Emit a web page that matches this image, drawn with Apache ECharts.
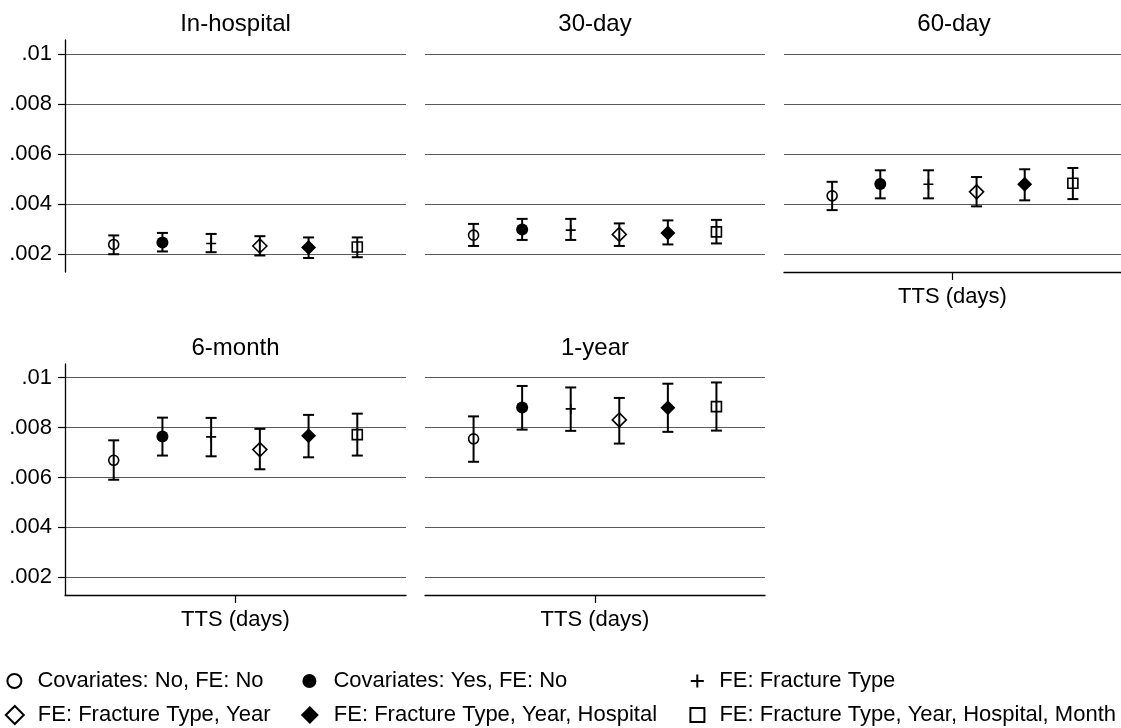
<!DOCTYPE html>
<html>
<head>
<meta charset="utf-8">
<title>TTS mortality estimates</title>
<script src="https://cdn.jsdelivr.net/npm/echarts@6/dist/echarts.min.js"></script>
<style>
  html, body { margin: 0; padding: 0; background: #fff; }
  #chart { width: 1121px; height: 728px; }
</style>
</head>
<body>
<div id="chart"></div>
<script>
// panels and models
const panelNames = ['In-hospital', '30-day', '60-day', '6-month', '1-year'];
const modelNames = [
  'Covariates: No, FE: No',
  'Covariates: Yes, FE: No',
  'FE: Fracture Type',
  'FE: Fracture Type, Year',
  'FE: Fracture Type, Year, Hospital',
  'FE: Fracture Type, Year, Hospital, Month'
];
const modelX = [1, 2, 3, 4, 5, 6];
const yTicks = [0.002, 0.004, 0.006, 0.008, 0.01];

// point estimates and CI bounds
const estInHospital = [0.00239, 0.00247, 0.00243, 0.00233, 0.00227, 0.00229];
const lowInHospital = [0.00200, 0.00211, 0.00208, 0.00195, 0.00185, 0.00188];
const highInHospital = [0.00275, 0.00285, 0.00281, 0.00272, 0.00267, 0.00267];

const est30 = [0.00276, 0.00299, 0.00296, 0.00279, 0.00285, 0.00289];
const low30 = [0.00233, 0.00257, 0.00257, 0.00233, 0.00239, 0.00243];
const high30 = [0.00321, 0.00341, 0.00341, 0.00323, 0.00335, 0.00337];

const est60 = [0.00433, 0.00480, 0.00479, 0.00449, 0.00479, 0.00483];
const low60 = [0.00376, 0.00423, 0.00423, 0.00391, 0.00415, 0.00420];
const high60 = [0.00489, 0.00535, 0.00535, 0.00508, 0.00539, 0.00544];

const est6m = [0.00669, 0.00764, 0.00763, 0.00712, 0.00767, 0.00772];
const low6m = [0.00591, 0.00688, 0.00685, 0.00633, 0.00681, 0.00688];
const high6m = [0.00749, 0.00840, 0.00839, 0.00795, 0.00851, 0.00856];

const est1y = [0.00755, 0.00881, 0.00875, 0.00831, 0.00880, 0.00884];
const low1y = [0.00663, 0.00792, 0.00787, 0.00736, 0.00783, 0.00788];
const high1y = [0.00845, 0.00967, 0.00961, 0.00919, 0.00976, 0.00981];

const estimates = [estInHospital, est30, est60, est6m, est1y];
const lows = [lowInHospital, low30, low60, low6m, low1y];
const highs = [highInHospital, high30, high60, high6m, high1y];

// layout of the five panels
const boxes = [
  { left: 65, top: 40, width: 341, height: 232, yLabels: true, xAxis: false },
  { left: 425, top: 40, width: 340, height: 232, yLabels: false, xAxis: false },
  { left: 784, top: 40, width: 340, height: 232, yLabels: false, xAxis: true },
  { left: 65, top: 364, width: 341, height: 231, yLabels: true, xAxis: true },
  { left: 425, top: 364, width: 340, height: 231, yLabels: false, xAxis: true }
];

const FONT = 'Liberation Sans, Arial, Helvetica, sans-serif';
const DIAMOND = 'path://M0,-1L1,0L0,1L-1,0Z';
const SQUARE = 'path://M-1,-1L1,-1L1,1L-1,1Z';
const PLUS = 'path://M-1,0L1,0M0,-1L0,1';

// marker look for each model (Stata style)
const markers = [
  { symbol: 'circle', size: 10, fill: 'transparent', border: 1.6 },
  { symbol: 'circle', size: 12, fill: '#000', border: 0 },
  { symbol: PLUS, size: 10, fill: 'transparent', border: 1.6 },
  { symbol: DIAMOND, size: 14, fill: 'transparent', border: 1.6 },
  { symbol: DIAMOND, size: 15, fill: '#000', border: 0 },
  { symbol: SQUARE, size: 10, fill: 'transparent', border: 1.6 }
];

// legend placement: [iconCenterX, textStartX, rowCenterY, iconSize]
// (the legend draws scatter icons at ~0.8 of itemHeight)
const legendPos = [
  [12, 35, 681, 14], [308, 332, 681, 14], [695, 717, 681, 13],
  [12, 35, 715, 18], [308, 332, 715, 18], [695, 717, 715, 14]
];

const grid = [], xAxis = [], yAxis = [], title = [], series = [], legend = [];

boxes.forEach(function (b, p) {
  grid.push({ left: b.left, top: b.top, width: b.width, height: b.height });
  title.push({
    text: panelNames[p],
    left: b.left + b.width / 2,
    top: b.top - 28,
    padding: 0,
    textAlign: 'center',
    textStyle: { fontFamily: FONT, fontSize: 24, fontWeight: 'normal', color: '#000' }
  });
  xAxis.push({
    type: 'value', gridIndex: p, min: 0, max: 7,
    name: b.xAxis ? 'TTS (days)' : '',
    nameLocation: 'middle', nameGap: 14,
    nameTextStyle: { fontFamily: FONT, fontSize: 22, color: '#000' },
    axisLine: { show: b.xAxis, onZero: false, lineStyle: { color: '#000', width: 1.3 } },
    axisTick: { show: b.xAxis, customValues: [3.5], length: 8, lineStyle: { color: '#000', width: 1.2 } },
    axisLabel: { show: false },
    splitLine: { show: false }
  });
  yAxis.push({
    type: 'value', gridIndex: p, min: 0.00129, max: 0.01055,
    axisLine: { show: b.yLabels, lineStyle: { color: '#000', width: 1.3 } },
    axisTick: { show: b.yLabels, customValues: yTicks, length: 7, lineStyle: { color: '#000', width: 1.2 } },
    axisLabel: {
      show: b.yLabels, customValues: yTicks, margin: 13,
      fontFamily: FONT, fontSize: 22, color: '#000',
      formatter: function (v) { return String(+v.toFixed(4)).replace(/^0/, ''); }
    },
    splitLine: { show: true, lineStyle: { color: '#5a5a5a', width: 1.2 } }
  });

  // confidence intervals
  series.push({
    type: 'custom',
    xAxisIndex: p, yAxisIndex: p,
    z: 2, silent: true,
    data: modelX.map(function (x, i) { return [x, lows[p][i], highs[p][i]]; }),
    encode: { x: 0, y: [1, 2] },
    renderItem: function (params, api) {
      const lo = api.coord([api.value(0), api.value(1)]);
      const hi = api.coord([api.value(0), api.value(2)]);
      const cap = 5.5;
      const st = { stroke: '#000', lineWidth: 2 };
      return {
        type: 'group',
        children: [
          { type: 'line', shape: { x1: lo[0], y1: lo[1], x2: hi[0], y2: hi[1] }, style: st },
          { type: 'line', shape: { x1: lo[0] - cap, y1: lo[1], x2: lo[0] + cap, y2: lo[1] }, style: st },
          { type: 'line', shape: { x1: hi[0] - cap, y1: hi[1], x2: hi[0] + cap, y2: hi[1] }, style: st }
        ]
      };
    }
  });

  // point estimates
  modelNames.forEach(function (name, i) {
    const m = markers[i];
    series.push({
      type: 'scatter', name: name,
      xAxisIndex: p, yAxisIndex: p, z: 3,
      symbol: m.symbol, symbolSize: m.size, symbolKeepAspect: true,
      itemStyle: { color: m.fill, borderColor: '#000', borderWidth: m.border, opacity: 1 },
      emphasis: { disabled: true },
      data: [[modelX[i], estimates[p][i]]]
    });
  });
});

// one legend per entry so each icon/text sits where Stata put it;
// the legend box is laid out from the drawn icon's left edge
modelNames.forEach(function (name, i) {
  const lp = legendPos[i];
  const w = 2 * (lp[1] - lp[0] - 5);
  legend.push({
    data: [name],
    left: lp[0] - lp[3] * 0.4,
    top: lp[2] - 11,
    padding: 0,
    itemWidth: w,
    itemHeight: lp[3],
    selectedMode: false,
    symbolKeepAspect: true,
    itemStyle: { borderWidth: markers[i].border ? 2 : 0 },
    textStyle: { fontFamily: FONT, fontSize: 22, color: '#000' }
  });
});

const chart = echarts.init(document.getElementById('chart'), null, { renderer: 'canvas' });
chart.setOption({
  backgroundColor: '#fff',
  animation: false,
  title: title,
  legend: legend,
  grid: grid,
  xAxis: xAxis,
  yAxis: yAxis,
  series: series
});
</script>
</body>
</html>
